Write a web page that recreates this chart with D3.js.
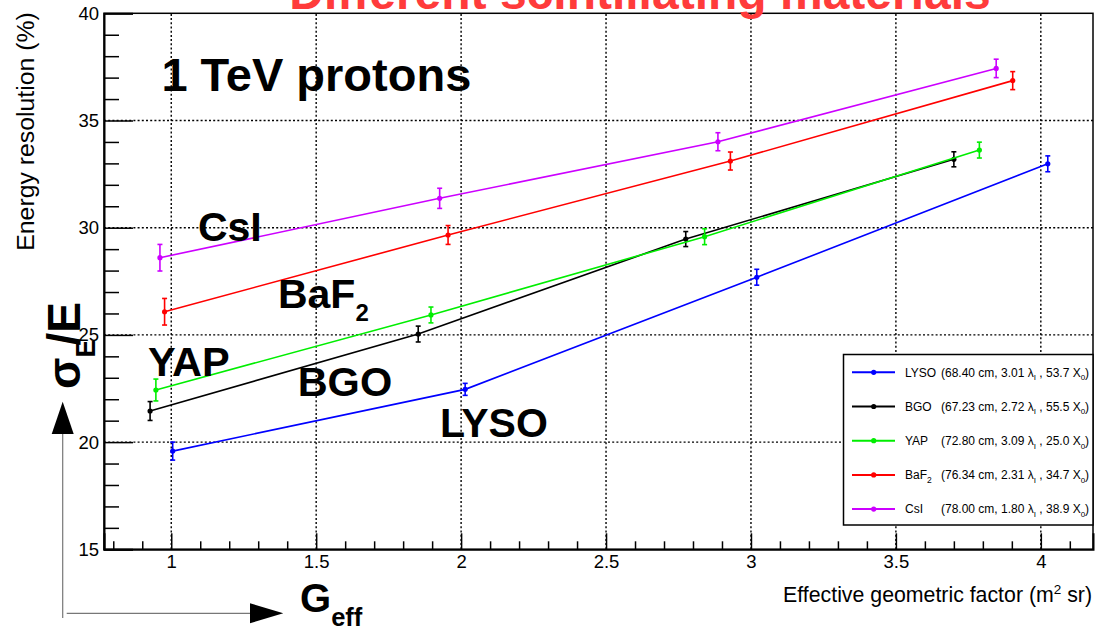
<!DOCTYPE html>
<html>
<head>
<meta charset="utf-8">
<script src="https://cdn.jsdelivr.net/npm/d3@7/dist/d3.min.js"></script>
<style>
  html, body { margin: 0; padding: 0; background: #fff; }
  svg { display: block; font-family: "Liberation Sans", Arial, Helvetica, sans-serif; }
</style>
</head>
<body>
<svg id="chart" width="1095" height="631"></svg>
<script>
// Materials, in legend order
const materials = ["LYSO", "BGO", "YAP", "BaF2", "CsI"];

// Effective geometric factor (m^2 sr) for each calorimeter configuration
const geffLYSO = [1.005, 2.014, 3.020, 4.024];
const geffBGO  = [0.927, 1.852, 2.775, 3.700];
const geffYAP  = [0.947, 1.896, 2.840, 3.788];
const geffBaF2 = [0.977, 1.955, 2.929, 3.903];
const geffCsI  = [0.961, 1.926, 2.886, 3.846];

// Energy resolution sigma_E/E (%) for 1 TeV protons
const resLYSO = [19.58, 22.46, 27.69, 32.98];
const resBGO  = [21.45, 25.04, 29.47, 33.19];
const resYAP  = [22.43, 25.93, 29.58, 33.62];
const resBaF2 = [26.08, 29.66, 33.11, 36.86];
const resCsI  = [28.60, 31.37, 34.01, 37.43];

// Statistical errors on the resolution (%)
const errLYSO = [0.42, 0.28, 0.37, 0.37];
const errBGO  = [0.44, 0.37, 0.35, 0.35];
const errYAP  = [0.51, 0.37, 0.37, 0.37];
const errBaF2 = [0.62, 0.44, 0.42, 0.42];
const errCsI  = [0.62, 0.47, 0.42, 0.43];

// Detector depth, interaction lengths and radiation lengths
const depthCm  = ["68.40", "67.23", "72.80", "76.34", "78.00"];
const lambdaI  = ["3.01", "2.72", "3.09", "2.31", "1.80"];
const radLen   = ["53.7", "55.5", "25.0", "34.7", "38.9"];

// Axis ticks
const xMajorTicks = [1, 1.5, 2, 2.5, 3, 3.5, 4];
const xTickLabels = ["1", "1.5", "2", "2.5", "3", "3.5", "4"];
const yMajorTicks = [15, 20, 25, 30, 35, 40];
const yTickLabels = ["15", "20", "25", "30", "35", "40"];

const colors = { LYSO: "#0000ff", BGO: "#000000", YAP: "#00ee00", BaF2: "#ff0000", CsI: "#cc00ff" };

const series = [
  { name: "LYSO", g: geffLYSO, r: resLYSO, e: errLYSO },
  { name: "BGO",  g: geffBGO,  r: resBGO,  e: errBGO },
  { name: "YAP",  g: geffYAP,  r: resYAP,  e: errYAP },
  { name: "BaF2", g: geffBaF2, r: resBaF2, e: errBaF2 },
  { name: "CsI",  g: geffCsI,  r: resCsI,  e: errCsI }
].map(s => ({ name: s.name, pts: s.g.map((g, i) => ({ g, r: s.r[i], e: s.e[i] })) }));

const svg = d3.select("#chart");
const frame = { left: 104, right: 1093, top: 13.3, bottom: 549.3 };

const x = d3.scaleLinear().domain([0.768, 4.18]).range([frame.left, frame.right]);
const y = d3.scaleLinear().domain([15, 40]).range([frame.bottom, frame.top]);

// Dotted grid
const grid = svg.append("g").attr("stroke", "#000").attr("stroke-width", 1.4)
  .attr("stroke-dasharray", "2,2.2");
grid.selectAll("line.v").data(xMajorTicks).join("line")
  .attr("x1", d => x(d)).attr("x2", d => x(d))
  .attr("y1", frame.bottom).attr("y2", frame.top);
grid.selectAll("line.h").data(yMajorTicks.filter(d => d > 15 && d < 40)).join("line")
  .attr("x1", frame.left).attr("x2", frame.right)
  .attr("y1", d => y(d)).attr("y2", d => y(d));

// Frame
svg.append("rect")
  .attr("x", frame.left).attr("y", frame.top)
  .attr("width", frame.right - frame.left).attr("height", frame.bottom - frame.top)
  .attr("fill", "none").attr("stroke", "#000").attr("stroke-width", 1.5);

// X axis: major ticks with labels, minor ticks every 0.1
const xMinor = d3.range(8, 42).map(v => v / 10).filter(v => Math.abs(v * 2 - Math.round(v * 2)) > 1e-6);
svg.append("g").attr("transform", `translate(0,${frame.bottom})`)
  .call(d3.axisBottom(x).tickValues(xMajorTicks).tickSize(-16).tickPadding(6)
    .tickFormat((d, i) => xTickLabels[i]));
svg.append("g").attr("transform", `translate(0,${frame.bottom})`)
  .call(d3.axisBottom(x).tickValues(xMinor).tickSize(-8).tickFormat(""))
  .select(".domain").remove();

// Y axis: major ticks with labels, minor ticks every 1
const yMinor = d3.range(16, 40).filter(v => v % 5 !== 0);
svg.append("g").attr("transform", `translate(${frame.left},0)`)
  .call(d3.axisLeft(y).tickValues(yMajorTicks).tickSize(-29).tickPadding(5)
    .tickFormat((d, i) => yTickLabels[i]));
svg.append("g").attr("transform", `translate(${frame.left},0)`)
  .call(d3.axisLeft(y).tickValues(yMinor).tickSize(-15).tickFormat(""))
  .select(".domain").remove();

svg.selectAll(".tick line").attr("stroke", "#000").attr("stroke-width", 1.5);
svg.selectAll(".domain").attr("stroke", "#000").attr("stroke-width", 2);
svg.selectAll(".tick text").attr("font-size", 18.5).attr("fill", "#000")
  .attr("font-family", "'Liberation Sans', Arial, sans-serif");

// Axis titles
svg.append("text")
  .attr("x", 1092).attr("y", 602)
  .attr("text-anchor", "end").attr("font-size", 21.3)
  .html('Effective geometric factor (m<tspan dy="-8" font-size="13.5">2</tspan><tspan dy="8"> sr)</tspan>');

svg.append("text")
  .attr("transform", `translate(34,${frame.top - 1}) rotate(-90)`)
  .attr("text-anchor", "end").attr("font-size", 24.8)
  .text("Energy resolution (%)");

// Data lines, error bars and markers
const line = d3.line().x(d => x(d.g)).y(d => y(d.r));
const plot = svg.append("g");
series.forEach(s => {
  const c = colors[s.name];
  const g = plot.append("g");
  g.append("path").datum(s.pts).attr("d", line)
    .attr("fill", "none").attr("stroke", c).attr("stroke-width", 1.6);
  const eb = g.selectAll("g.eb").data(s.pts).join("g").attr("stroke", c).attr("stroke-width", 1.6);
  eb.append("line").attr("x1", d => x(d.g)).attr("x2", d => x(d.g))
    .attr("y1", d => y(d.r - d.e)).attr("y2", d => y(d.r + d.e));
  eb.append("line").attr("x1", d => x(d.g) - 2.5).attr("x2", d => x(d.g) + 2.5)
    .attr("y1", d => y(d.r - d.e)).attr("y2", d => y(d.r - d.e));
  eb.append("line").attr("x1", d => x(d.g) - 2.5).attr("x2", d => x(d.g) + 2.5)
    .attr("y1", d => y(d.r + d.e)).attr("y2", d => y(d.r + d.e));
  g.selectAll("circle").data(s.pts).join("circle")
    .attr("cx", d => x(d.g)).attr("cy", d => y(d.r)).attr("r", 2.6).attr("fill", c);
});

// Legend
const leg = svg.append("g");
leg.append("rect").attr("x", 843.5).attr("y", 354.5).attr("width", 249.5).attr("height", 170.5)
  .attr("fill", "#fff").attr("stroke", "#000").attr("stroke-width", 1.5);
materials.forEach((m, i) => {
  const yy = 372.3 + i * 34.2;
  const c = colors[m];
  leg.append("line").attr("x1", 852).attr("x2", 895).attr("y1", yy).attr("y2", yy)
    .attr("stroke", c).attr("stroke-width", 2);
  leg.append("circle").attr("cx", 873.7).attr("cy", yy).attr("r", 2.6).attr("fill", c);
  const name = leg.append("text").attr("x", 905).attr("y", yy + 4.3).attr("font-size", 12);
  if (m === "BaF2") {
    name.html('BaF<tspan dy="3.5" font-size="8.5">2</tspan>');
  } else {
    name.text(m);
  }
  leg.append("text").attr("x", 941).attr("y", yy + 4.3).attr("font-size", 12)
    .html(`(${depthCm[i]} cm, ${lambdaI[i]} \u03bb<tspan dy="3.5" font-size="8">I</tspan><tspan dy="-3.5"> , ${radLen[i]} X</tspan><tspan dy="3.5" font-size="8">0</tspan><tspan dy="-3.5">)</tspan>`);
});

// In-plot annotations (placed in data coordinates)
function label(gx, ry, size, html) {
  return svg.append("text").attr("x", x(gx)).attr("y", y(ry))
    .attr("font-size", size).attr("font-weight", "bold").attr("fill", "#000")
    .html(html);
}
label(0.966, 36.38, 47, "1 TeV protons");
label(1.092, 29.38, 41, "CsI");
label(1.368, 26.25, 41, 'BaF<tspan dy="13" font-size="24">2</tspan>');
label(0.920, 23.10, 41.5, "YAP");
label(1.436, 22.15, 41.5, "BGO");
label(1.927, 20.24, 41, "LYSO");

// Title, partly above the canvas edge
svg.append("text").attr("x", 640).attr("y", 9).attr("text-anchor", "middle")
  .attr("font-size", 48).attr("font-weight", "bold").attr("fill", "#ff3b3b")
  .text("Different scintillating materials");

// Rotated sigma_E / E marker
svg.append("text")
  .attr("transform", "translate(80,389) rotate(-90)")
  .attr("font-size", 46).attr("font-weight", "bold")
  .html('\u03c3<tspan dy="15" font-size="27">E</tspan><tspan dy="-15" dx="-6">/E</tspan>');

// G_eff marker
svg.append("text").attr("x", 300).attr("y", 612).attr("font-size", 40).attr("font-weight", "bold")
  .html('G<tspan dy="14" font-size="25.5">eff</tspan>');

// Arrows
svg.append("line").attr("x1", 62.7).attr("x2", 62.7).attr("y1", 618).attr("y2", 430)
  .attr("stroke", "#777").attr("stroke-width", 1.2);
svg.append("path").attr("d", "M62.7,401.7 L51.7,434 L73.7,434 Z").attr("fill", "#000");
svg.append("line").attr("x1", 66.7).attr("x2", 255).attr("y1", 613.3).attr("y2", 613.3)
  .attr("stroke", "#777").attr("stroke-width", 1.2);
svg.append("path").attr("d", "M283.3,613.3 L250,603.3 L250,623.3 Z").attr("fill", "#000");
</script>
</body>
</html>
